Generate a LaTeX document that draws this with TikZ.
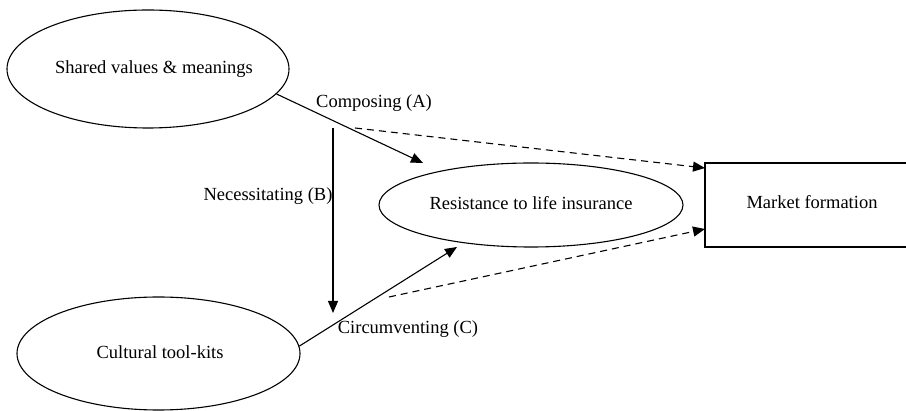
\documentclass[tikz,border=0pt]{standalone}
\usepackage{fontspec}
\setmainfont{Liberation Serif}
\usetikzlibrary{shapes.geometric,arrows.meta}
\begin{document}
\begin{tikzpicture}[x=1pt,y=-1pt,
  ell/.style={draw,ellipse,line width=1.1pt,inner sep=0pt},
  txt/.style={inner sep=0pt,font=\fontsize{18.5}{22}\selectfont},
  conn/.style={line width=1.1pt,-{Triangle[length=12pt,width=10pt]}},
  dconn/.style={conn,dash pattern=on 7pt off 5pt}]
\useasboundingbox (0,0) rectangle (906,411);
\node[ell,minimum width=282,minimum height=118] (sv) at (148,69) {};
\node[txt] (svt) at (154,69) {Shared values \& meanings};
\node[ell,minimum width=283,minimum height=113] (ct) at (158.5,353.5) {};
\node[txt] (ctt) at (160,352) {Cultural tool-kits};
\node[ell,minimum width=304,minimum height=84] (res) at (531,205) {};
\node[txt] (rest) at (531,203) {Resistance to life insurance};
\draw[line width=1.1pt] (705,163) rectangle (915,247);
\coordinate (mfl) at (705,205);
\node[txt] (mf) at (812,202) {Market formation};
\coordinate (cA) at (423,163);
\coordinate (dAs) at (355,128);
\coordinate (dAe) at (705,168);
\coordinate (vS) at (333,128);
\coordinate (vE) at (333,313);
\coordinate (cC) at (457,247);
\coordinate (dCs) at (389,297);
\coordinate (dCe) at (705,229);
\draw[conn] (sv.-11) -- (cA);
\draw[dconn] (dAs) -- (dAe);
\draw[conn] (vS) -- (vE);
\draw[conn] (ct.3) -- (cC);
\draw[dconn] (dCs) -- (dCe);
\node[txt] (lA) at (374,103) {Composing (A)};
\node[txt] (lB) at (268,196) {Necessitating (B)};
\node[txt] (lC) at (408,329) {Circumventing (C)};
\end{tikzpicture}
\end{document}
